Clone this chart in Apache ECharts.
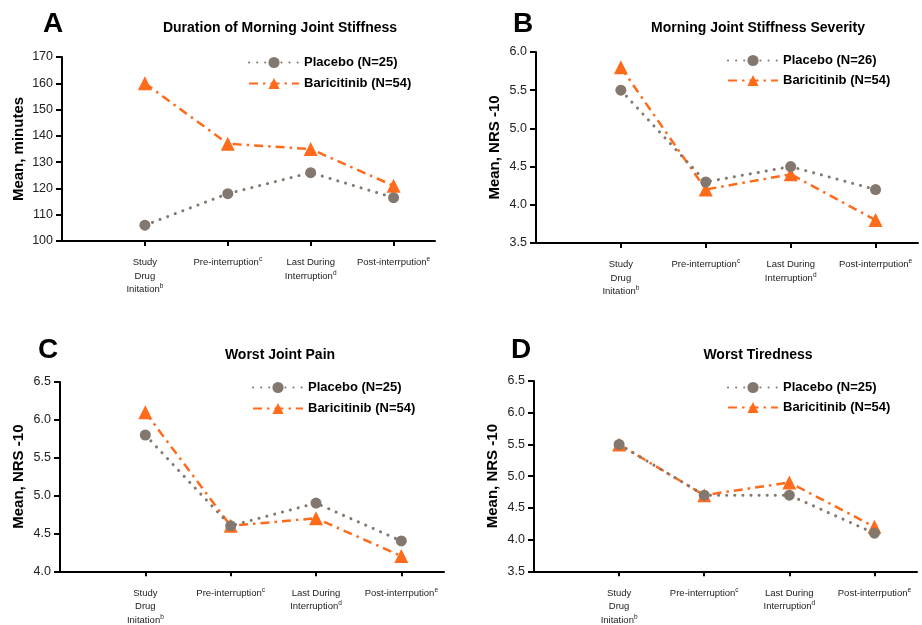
<!DOCTYPE html>
<html><head><meta charset="utf-8">
<script src="https://cdn.jsdelivr.net/npm/echarts@6/dist/echarts.min.js"></script>
<style>html,body{margin:0;padding:0;background:#fff}#c{width:922px;height:625px}</style>
</head><body><div id="c"></div>
<script>
// ---- data ----
const categories = ['Study\nDrug\nInitation', 'Pre-interruption', 'Last During\nInterruption', 'Post-interrpution'];
const categorySup = ['b', 'c', 'd', 'e'];
const panelLetters = ['A', 'B', 'C', 'D'];
const panelTitles = ['Duration of Morning Joint Stiffness', 'Morning Joint Stiffness Severity', 'Worst Joint Pain', 'Worst Tiredness'];
const yNames = ['Mean, minutes', 'Mean, NRS -10', 'Mean, NRS -10', 'Mean, NRS -10'];
const yMin = [100, 3.5, 4.0, 3.5];
const yMax = [170, 6.0, 6.5, 6.5];
const yInterval = [10, 0.5, 0.5, 0.5];
const placeboN = [25, 26, 25, 25];
const baricitinibN = [54, 54, 54, 54];
const placeboA = [106, 118, 126, 116.5];
const baricitinibA = [160, 137, 135, 121];
const placeboB = [5.5, 4.3, 4.5, 4.2];
const baricitinibB = [5.8, 4.2, 4.4, 3.8];
const placeboC = [5.8, 4.6, 4.9, 4.4];
const baricitinibC = [6.1, 4.6, 4.7, 4.2];
const placeboD = [5.5, 4.7, 4.7, 4.1];
const baricitinibD = [5.5, 4.7, 4.9, 4.2];
const placeboAll = [placeboA, placeboB, placeboC, placeboD];
const baricitinibAll = [baricitinibA, baricitinibB, baricitinibC, baricitinibD];

// ---- layout / style ----
const FONT = 'Liberation Sans, Arial, Helvetica, sans-serif';
const GRAY = '#82786f';
const ORANGE = '#ff6b1a';
const grids = [
  {left: 62, right: 487, top: 57, bottom: 384},
  {left: 536, right: 4, top: 52, bottom: 382},
  {left: 60, right: 478, top: 382, bottom: 53},
  {left: 534, right: 5, top: 381, bottom: 53}
];
const letterPos = [[53, 24], [523, 24], [48, 350], [521, 350]];
const titlePos = [[280, 28], [758, 28], [280, 355], [758, 355]];
const legendPos = [[243, 51], [722, 49], [247, 376], [722, 376]];
const legendGap = [8, 7, 8, 7];
const yNameGap = [36, 34, 34, 34];

function xLabel(v) {
  const i = Math.round(v) - 1;
  if (i < 0 || i >= categories.length || Math.abs(v - Math.round(v)) > 1e-6) return '';
  const lines = categories[i].split('\n');
  return lines.map((l, k) => '{n|' + l + '}' + (k === lines.length - 1 ? '{s|' + categorySup[i] + '}' : '')).join('\n');
}

const graphic = [];
const xAxis = [], yAxis = [], series = [], legend = [];
for (let p = 0; p < 4; p++) {
  graphic.push({type: 'text', x: letterPos[p][0], y: letterPos[p][1],
    style: {text: panelLetters[p], font: 'bold 28px ' + FONT, fill: '#000', align: 'center', verticalAlign: 'middle'}});
  graphic.push({type: 'text', x: titlePos[p][0], y: titlePos[p][1],
    style: {text: panelTitles[p], font: 'bold 14px ' + FONT, fill: '#000', align: 'center', verticalAlign: 'middle'}});
  xAxis.push({
    type: 'value', gridIndex: p, min: 0, max: 4.5, interval: 1,
    splitLine: {show: false},
    axisLine: {lineStyle: {color: '#000', width: 2}},
    axisTick: {length: 5, lineStyle: {color: '#000', width: 2}, customValues: [1, 2, 3, 4]},
    axisLabel: {
      customValues: [1, 2, 3, 4], margin: 15, formatter: xLabel, fontFamily: FONT,
      rich: {
        n: {fontSize: 9.5, lineHeight: 13.5, color: '#222', fontFamily: FONT},
        s: {fontSize: 6.5, lineHeight: 6, verticalAlign: 'top', color: '#222', fontFamily: FONT}
      }
    }
  });
  yAxis.push({
    type: 'value', gridIndex: p, min: yMin[p], max: yMax[p], interval: yInterval[p],
    splitLine: {show: false},
    name: yNames[p], nameLocation: 'middle', nameGap: yNameGap[p],
    nameTextStyle: {fontFamily: FONT, fontWeight: 'bold', fontSize: 15, color: '#000'},
    axisLine: {show: true, lineStyle: {color: '#000', width: 2}},
    axisTick: {show: true, length: 6, lineStyle: {color: '#000', width: 2}},
    axisLabel: {
      margin: 9, fontFamily: FONT, fontSize: 12.5, color: '#222',
      formatter: v => p === 0 ? String(v) : v.toFixed(1)
    }
  });
  const pName = 'Placebo (N=' + placeboN[p] + ')';
  const bName = 'Baricitinib (N=' + baricitinibN[p] + ')';
  series.push({
    type: 'line', name: bName, xAxisIndex: p, yAxisIndex: p, z: 2,
    data: baricitinibAll[p].map((v, i) => [i + 1, v]),
    symbol: 'triangle', symbolSize: 14, color: ORANGE,
    itemStyle: {color: ORANGE},
    lineStyle: {color: ORANGE, width: 2.5, type: [9, 5, 2.5, 5]}
  });
  series.push({
    type: 'line', name: pName, xAxisIndex: p, yAxisIndex: p, z: 3,
    data: placeboAll[p].map((v, i) => [i + 1, v]),
    symbol: 'circle', symbolSize: 11, color: GRAY,
    itemStyle: {color: GRAY},
    lineStyle: {color: GRAY, width: 3, cap: 'round', type: [0.1, 8]}
  });
  legend.push({
    orient: 'vertical', left: legendPos[p][0], top: legendPos[p][1],
    data: [pName, bName], itemWidth: 50, itemHeight: 14, itemGap: legendGap[p],
    textStyle: {fontFamily: FONT, fontWeight: 'bold', fontSize: 13, color: '#000'},
    selectedMode: false
  });
}

const chart = echarts.init(document.getElementById('c'), null, {renderer: 'canvas'});
chart.setOption({
  animation: false,
  backgroundColor: '#fff',
  grid: grids,
  xAxis, yAxis, series, legend, graphic
});
</script>
</body></html>
